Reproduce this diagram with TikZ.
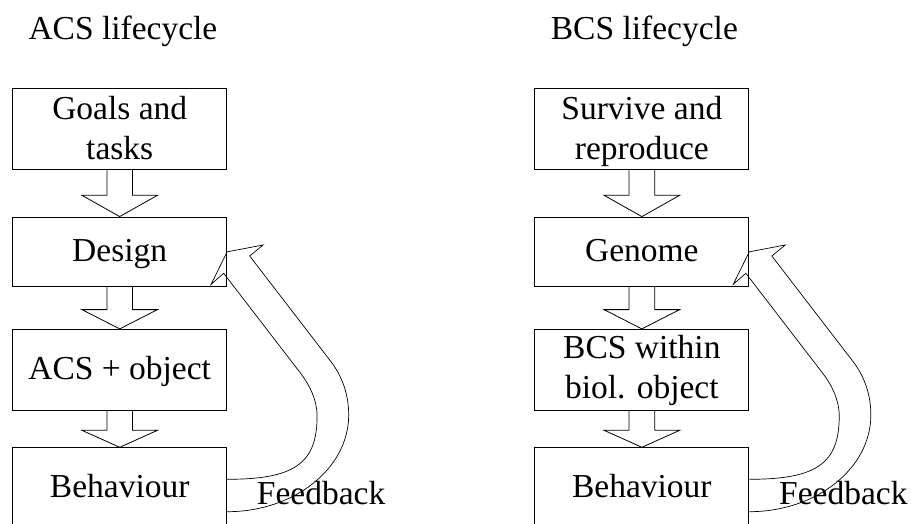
\documentclass[tikz,border=0pt]{standalone}
\usepackage{fontspec}
\setmainfont{Liberation Serif}
\usetikzlibrary{calc}
\tikzset{
  box/.style={draw, line width=0.8pt, minimum width=214pt, inner sep=0pt},
  txt/.style={anchor=base, inner sep=0pt, font=\fontsize{33.5}{40}\selectfont},
  ttl/.style={anchor=base west, inner sep=0pt, font=\fontsize{33.5}{40}\selectfont},
  barrow/.style={draw, line width=0.8pt, line join=miter},
  fb/.style={draw, line width=0.7pt, line join=miter},
}
\newcommand\blockarr[3]{%
  \draw[barrow] ($(#1.south)+(-12.8,0)$) -- ($(#2.north)+(-12.8,-#3)$)
    -- ($(#2.north)+(-37.8,-#3)$) -- (#2.north) -- ($(#2.north)+(37.8,-#3)$)
    -- ($(#2.north)+(12.8,-#3)$) -- ($(#1.south)+(12.8,0)$);}
\newcommand\fbarrow[2]{%
  \draw[fb] ($(#2.east)+(0,-8.9)$)
    .. controls ($(#2.east)+(67.5,-8.9)$) and ($(#2.east)+(90,-24.7)$) .. ($(#2.east)+(90,-72.2)$)
    .. controls ($(#1.east)+(90,148.15)$) and ($(#1.east)+(82.5,133.05)$) .. ($(#1.east)+(73.3,121.15)$)
    -- ($(#1.east)+(-3.4,21.45)$) -- ($(#1.east)+(-16,32.45)$) -- (#1.east)
    -- ($(#1.east)+(36,-6.85)$) -- ($(#1.east)+(22.6,4.15)$)
    -- ($(#1.east)+(103.3,109.05)$)
    .. controls ($(#1.east)+(115.5,124.85)$) and ($(#1.east)+(121.6,143.15)$) .. ($(#2.east)+(121.6,-73.2)$)
    .. controls ($(#2.east)+(121.6,-19.8)$) and ($(#2.east)+(67.2,23.5)$) .. ($(#2.east)+(0,23.5)$);}
\begin{document}
\begin{tikzpicture}[x=1pt,y=-1pt]
\useasboundingbox (0,0) rectangle (911,524);
\clip (0,0) rectangle (911,524);
% titles
\node[ttl] (t1) at (28.3,40) {ACS lifecycle};
\node[ttl] (t2) at (550.7,40) {BCS lifecycle};
% left column
\node[box, minimum height=81pt] (a1) at (119.7,128.8) {};
\node[box, minimum height=69.7pt] (a2) at (119.7,251.85) {};
\node[box, minimum height=80.7pt] (a3) at (119.7,369.65) {};
\node[box, minimum height=81pt] (a4) at (119.7,488.2) {};
\node[txt] (a1t1) at (119.7,119.3) {Goals and};
\node[txt] (a1t2) at (119.7,159.3) {tasks};
\node[txt] (a2t) at (119.7,261.7) {Design};
\node[txt] (a3t) at (119.7,379) {ACS + object};
\node[txt] (a4t) at (119.7,497.7) {Behaviour};
\blockarr{a1}{a2}{21.3}
\blockarr{a2}{a3}{19.3}
\blockarr{a3}{a4}{17}
\fbarrow{a2}{a4}
\node[ttl] (fa) at (256.7,504.3) {Feedback};
% right column
\node[box, minimum height=81pt] (b1) at (641.85,128.8) {};
\node[box, minimum height=69.7pt] (b2) at (641.85,251.85) {};
\node[box, minimum height=80.7pt] (b3) at (641.85,369.65) {};
\node[box, minimum height=81pt] (b4) at (641.85,488.2) {};
\node[txt] (b1t1) at (641.85,119.3) {Survive and};
\node[txt] (b1t2) at (641.85,159.3) {reproduce};
\node[txt] (b2t) at (641.85,261.7) {Genome};
\node[txt] (b3t1) at (641.85,358.3) {BCS within};
\node[txt] (b3t2) at (641.85,398.3) {biol. object};
\node[txt] (b4t) at (641.85,497.7) {Behaviour};
\blockarr{b1}{b2}{21.3}
\blockarr{b2}{b3}{19.3}
\blockarr{b3}{b4}{17}
\fbarrow{b2}{b4}
\node[ttl] (fb1) at (779,504.3) {Feedback};
\end{tikzpicture}
\end{document}
